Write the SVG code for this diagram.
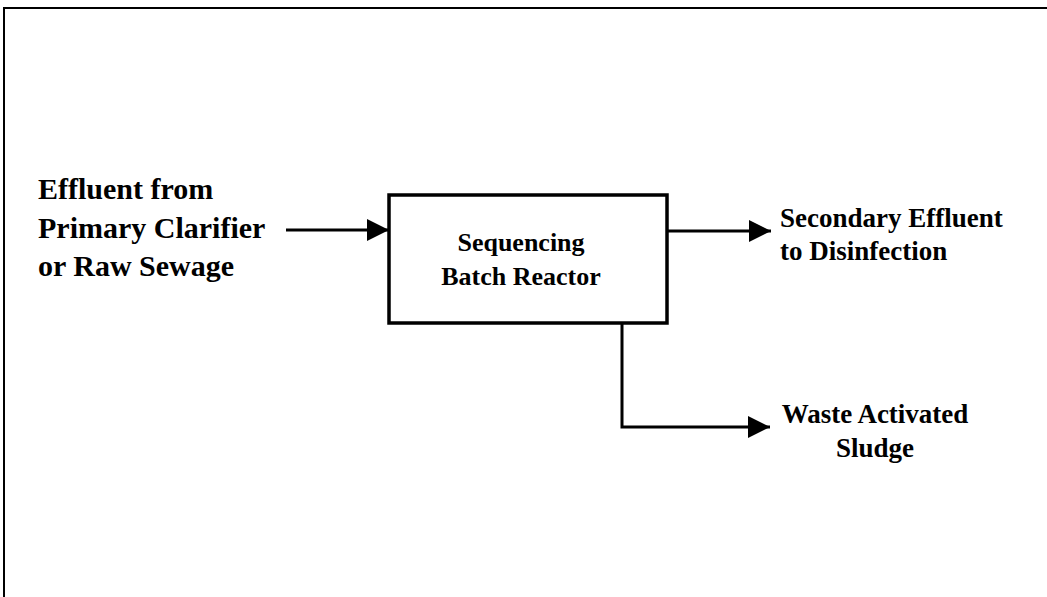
<svg xmlns="http://www.w3.org/2000/svg" width="1047" height="597" viewBox="0 0 1047 597">
<style>
  .t { font-family: 'Liberation Serif', 'Times New Roman', serif; font-weight: bold; fill: #000; }
  .ln { stroke: #000; stroke-width: 3; fill: none; }
</style>
<defs>
  <marker id="ah" markerUnits="userSpaceOnUse" markerWidth="22" markerHeight="22" refX="22" refY="11" orient="auto">
    <path d="M0,0 L22,11 L0,22 Z" fill="#000"/>
  </marker>
</defs>
<rect width="1047" height="597" fill="#fff"/>
<g id="frame">
  <path d="M4,597 V8 H1047" stroke="#000" stroke-width="2" fill="none"/>
</g>
<g id="connectors">
  <path class="ln" d="M286,230 H389" marker-end="url(#ah)"/>
  <path class="ln" d="M667,231 H771" marker-end="url(#ah)"/>
  <path class="ln" d="M622,323 V427 H770" marker-end="url(#ah)"/>
</g>
<g id="sbr">
  <rect x="389" y="195" width="278" height="128" fill="none" stroke="#000" stroke-width="3.5"/>
  <text class="t" font-size="26" text-anchor="middle"><tspan x="521" y="251">Sequencing</tspan><tspan x="521" y="285">Batch Reactor</tspan></text>
</g>
<g id="influent">
  <text class="t" font-size="30"><tspan x="38" y="199">Effluent from</tspan><tspan x="38" y="238">Primary Clarifier</tspan><tspan x="38" y="276">or Raw Sewage</tspan></text>
</g>
<g id="effluent">
  <text class="t" font-size="27"><tspan x="780" y="227">Secondary Effluent</tspan><tspan x="780" y="260">to Disinfection</tspan></text>
</g>
<g id="was">
  <text class="t" font-size="27" text-anchor="middle"><tspan x="875" y="423">Waste Activated</tspan><tspan x="875" y="457">Sludge</tspan></text>
</g>
</svg>
